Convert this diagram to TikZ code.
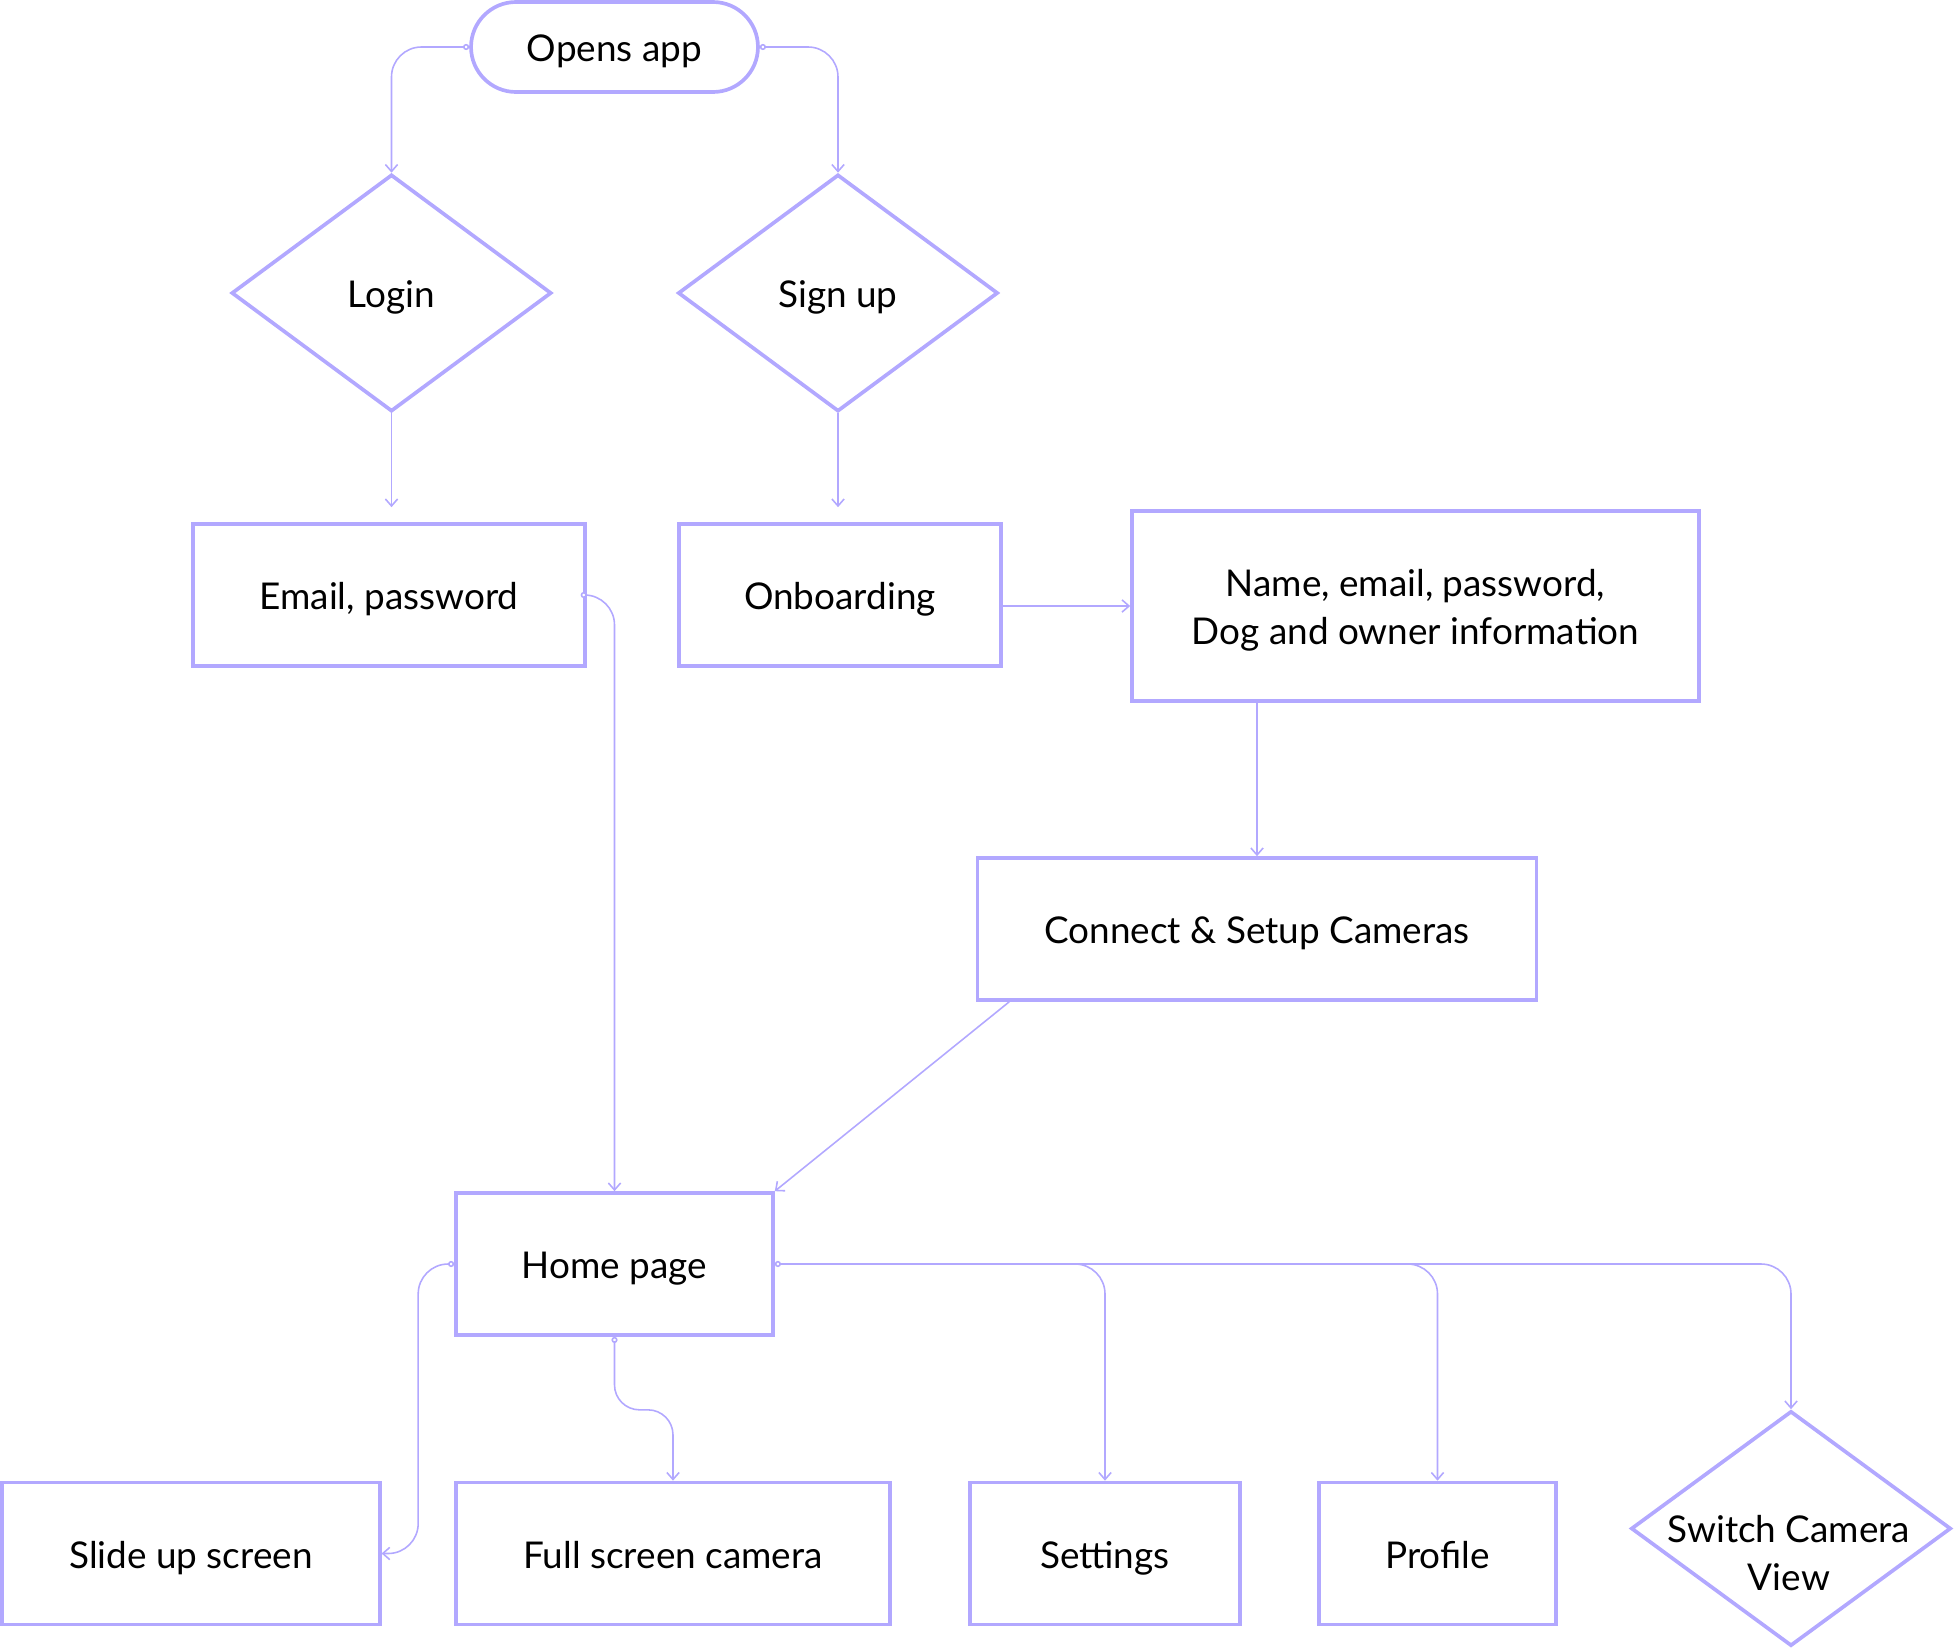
\documentclass[tikz,border=0pt]{standalone}
\usepackage{fontspec}
\setmainfont{Lato}
\usepackage{tikz}
\usetikzlibrary{shapes.geometric,arrows.meta}
\definecolor{flowlilac}{RGB}{178,168,255}

\begin{document}
\begin{tikzpicture}[x=0.02cm, y=-0.02cm,
    every node/.style={font=\fontsize{21}{27}\selectfont, text centered},
    box/.style={draw=flowlilac, line width=2.1pt, minimum height=2.84cm, text height=17pt, text depth=0pt},
    choice/.style={draw=flowlilac, line width=2.1pt, diamond, inner sep=0pt, minimum width=6.4cm, minimum height=4.74cm, text height=17pt, text depth=0pt},
    link/.style={draw=flowlilac, line width=0.9pt, rounded corners=0.6cm, -{Straight Barb[length=4pt,width=7pt]}},
    tail/.style={{Circle[open,fill=white,length=3.5pt]}-{Straight Barb[length=4pt,width=7pt]}}]
    \useasboundingbox (0,0) rectangle (1955,1650);

    \node[box, rounded corners=0.9cm, minimum width=5.74cm, minimum height=1.8cm] (opens) at (614.5,47) {Opens app};
    \node[choice] (login) at (391.5,293) {Login};
    \node[choice] (signup) at (838,293) {Sign up};
    \node[box, minimum width=7.84cm] (email) at (389,595) {Email, password};
    \node[box, minimum width=6.44cm] (onboard) at (840,595) {Onboarding};
    \node[box, minimum width=11.34cm, minimum height=3.8cm, align=center, text height=43.4pt] (info) at (1415.5,606) {Name, email, password,\\Dog and owner information};
    \node[box, minimum width=11.18cm] (connect) at (1257,929) {Connect \& Setup Cameras};
    \node[box, minimum width=6.34cm] (home) at (614.5,1264) {Home page};
    \node[box, minimum width=7.55cm] (slide) at (191,1553.5) {Slide up screen};
    \node[box, minimum width=8.68cm] (fullcam) at (673,1553.5) {Full screen camera};
    \node[box, minimum width=5.4cm] (settings) at (1105,1553.5) {Settings};
    \node[box, minimum width=4.74cm] (profile) at (1437.5,1553.5) {Profile};
    \node[choice, minimum height=4.7cm] (switch) at (1791,1528.5) {};
    \node[align=center] (switchtext) at (1789,1553) {Switch Camera\\View};

    \draw[link, tail] (opens.west) -| (login.north);
    \draw[link, tail] (opens.east) -| (signup.north);
    \draw[link, shorten >=0.3cm] (login.south) -- (login.south |- email.north);
    \draw[link, shorten >=0.3cm] (signup.south) -- (signup.south |- onboard.north);
    \draw[link] (onboard.east |- info.west) -- (info.west);
    \draw[link, tail] (email.east) -| (home.north);
    \draw[link] (info.south -| connect.north) -- (connect.north);
    \draw[link] ([xshift=0.67cm]connect.south west) -- (home.north east);
    \draw[link] (home.east) -| (profile.north);
    \draw[link] (home.east) -| (switch.north);
    \draw[link, tail] (home.east) -| (settings.north);
    \draw[link, tail, rounded corners=0.5cm] (home.south) -- ++(0,73) -| (fullcam.north);
    \draw[link, tail] (home.west) -- ++(-36,0) |- (slide.east);
\end{tikzpicture}
\end{document}
